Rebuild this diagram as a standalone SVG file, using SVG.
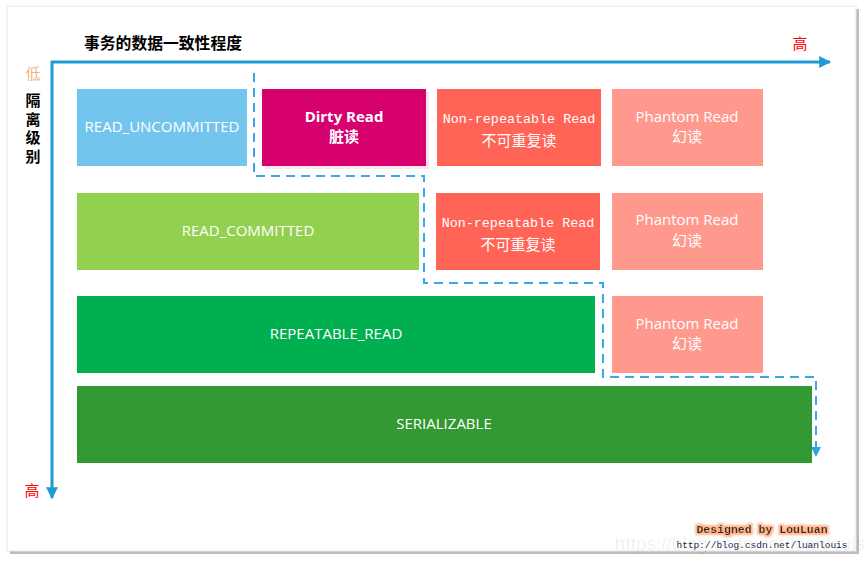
<svg xmlns="http://www.w3.org/2000/svg" width="866" height="561" viewBox="0 0 866 561">
<defs>
<marker id="ah" viewBox="0 0 10 10" refX="9" refY="5" markerWidth="4" markerHeight="4" orient="auto" markerUnits="strokeWidth">
<path d="M0,0 L10,5 L0,10 z" fill="#1e9ad6"/>
</marker>
<marker id="ah2" viewBox="0 0 10 10" refX="9" refY="5" markerWidth="5" markerHeight="5" orient="auto" markerUnits="strokeWidth">
<path d="M0,0 L10,5 L0,10 z" fill="#2fa3e0"/>
</marker>
<filter id="glow" x="-10%" y="-40%" width="120%" height="180%">
<feMorphology in="SourceAlpha" operator="dilate" radius="2" result="d"/>
<feGaussianBlur in="d" stdDeviation="1.2" result="b"/>
<feFlood flood-color="#ffb28a"/>
<feComposite in2="b" operator="in" result="g"/>
<feMerge><feMergeNode in="g"/><feMergeNode in="SourceGraphic"/></feMerge>
</filter>
</defs>
<style>
.lbl{font-family:"Open Sans","Noto Sans","Noto Sans CJK SC",sans-serif;font-size:15px;fill:#fff;text-anchor:middle}
.cjk{font-family:"Noto Sans CJK SC",sans-serif;font-size:15px;fill:#fff;text-anchor:middle}
.mono{font-family:"Liberation Mono","DejaVu Sans Mono",monospace;font-size:13.4px;fill:#fff;text-anchor:middle}
.bold{font-weight:bold}
.axis{stroke:#1e9ad6;stroke-width:3;fill:none}
.dash{stroke:#3aa8e4;stroke-width:2;fill:none;stroke-dasharray:9 6}
</style>
<rect width="866" height="561" fill="#ffffff"/>
<rect x="10" y="9" width="849" height="545" fill="#bdbdbd"/>
<rect x="7" y="6" width="849" height="545" fill="#ffffff" stroke="#e6e6e6" stroke-width="1"/>

<g id="axes">
<line class="axis" x1="51" y1="62" x2="830" y2="62" marker-end="url(#ah)"/>
<line class="axis" x1="52" y1="61" x2="52" y2="498" marker-end="url(#ah)"/>
<text x="84" y="49" font-family="Noto Sans CJK SC,sans-serif" font-size="15.8" font-weight="bold" fill="#000">事务的数据一致性程度</text>
<text x="800" y="49" font-family="Noto Sans CJK SC,sans-serif" font-size="15" fill="#ff0000" text-anchor="middle">高</text>
<text x="32" y="496" font-family="Noto Sans CJK SC,sans-serif" font-size="15" fill="#ff0000" text-anchor="middle">高</text>
<text x="33" y="79" font-family="Noto Sans CJK SC,sans-serif" font-size="15" fill="#f4b183" text-anchor="middle">低</text>
<text x="33" y="93" font-family="Noto Sans CJK SC,sans-serif" font-size="15" font-weight="bold" fill="#000" style="writing-mode:vertical-rl;letter-spacing:3.5px">隔离级别</text>
</g>

<g id="connectors">
<path class="dash" d="M254,73 V176 H424 V283 H603 V377 H816 V456" marker-end="url(#ah2)"/>
</g>

<g id="read-uncommitted">
<rect x="77" y="89" width="170" height="77" fill="#74c5ee"/>
<text class="lbl" x="162" y="132">READ_UNCOMMITTED</text>
</g>
<g id="dirty-read">
<rect x="265" y="92" width="164" height="77" fill="#f7e6ea"/>
<rect x="262" y="89" width="164" height="77" fill="#d6006f"/>
<text class="lbl bold" x="344" y="122">Dirty Read</text>
<text class="cjk bold" x="344" y="142">脏读</text>
</g>
<g id="nonrepeatable-1">
<rect x="437" y="89" width="164" height="77" fill="#ff6457"/>
<text class="mono" x="519" y="123">Non-repeatable Read</text>
<text class="cjk" x="519" y="146">不可重复读</text>
</g>
<g id="phantom-1">
<rect x="612" y="89" width="151" height="77" fill="#ff998e"/>
<text class="lbl" x="687" y="122">Phantom Read</text>
<text class="cjk" x="687" y="142">幻读</text>
</g>

<g id="read-committed">
<rect x="77" y="193" width="342" height="77" fill="#92d050"/>
<text class="lbl" x="248" y="236">READ_COMMITTED</text>
</g>
<g id="nonrepeatable-2">
<rect x="436" y="193" width="164" height="77" fill="#ff6457"/>
<text class="mono" x="518" y="227">Non-repeatable Read</text>
<text class="cjk" x="518" y="250">不可重复读</text>
</g>
<g id="phantom-2">
<rect x="612" y="193" width="151" height="77" fill="#ff998e"/>
<text class="lbl" x="687" y="225">Phantom Read</text>
<text class="cjk" x="687" y="246">幻读</text>
</g>

<g id="repeatable-read">
<rect x="77" y="296" width="518" height="77" fill="#00b050"/>
<text class="lbl" x="336" y="339">REPEATABLE_READ</text>
</g>
<g id="phantom-3">
<rect x="612" y="296" width="151" height="77" fill="#ff998e"/>
<text class="lbl" x="687" y="329">Phantom Read</text>
<text class="cjk" x="687" y="349">幻读</text>
</g>

<g id="serializable">
<rect x="77" y="386" width="735" height="77" fill="#339933"/>
<text class="lbl" x="444" y="429">SERIALIZABLE</text>
</g>

<g id="watermark">
<text x="762" y="533" font-family="Liberation Mono,DejaVu Sans Mono,monospace" font-size="11.5" font-weight="bold" fill="#3a2a20" text-anchor="middle" filter="url(#glow)">Designed by LouLuan</text>
<text x="740" y="550" font-family="Liberation Sans,Arial,sans-serif" font-size="19" fill="#000" fill-opacity="0.07" text-anchor="middle">https://blog.csdn.net/luanlouis</text>
<text x="762" y="548" font-family="Liberation Mono,DejaVu Sans Mono,monospace" font-size="9.5" fill="#1a2a4a" text-anchor="middle">http://blog.csdn.net/luanlouis</text>
</g>
</svg>
